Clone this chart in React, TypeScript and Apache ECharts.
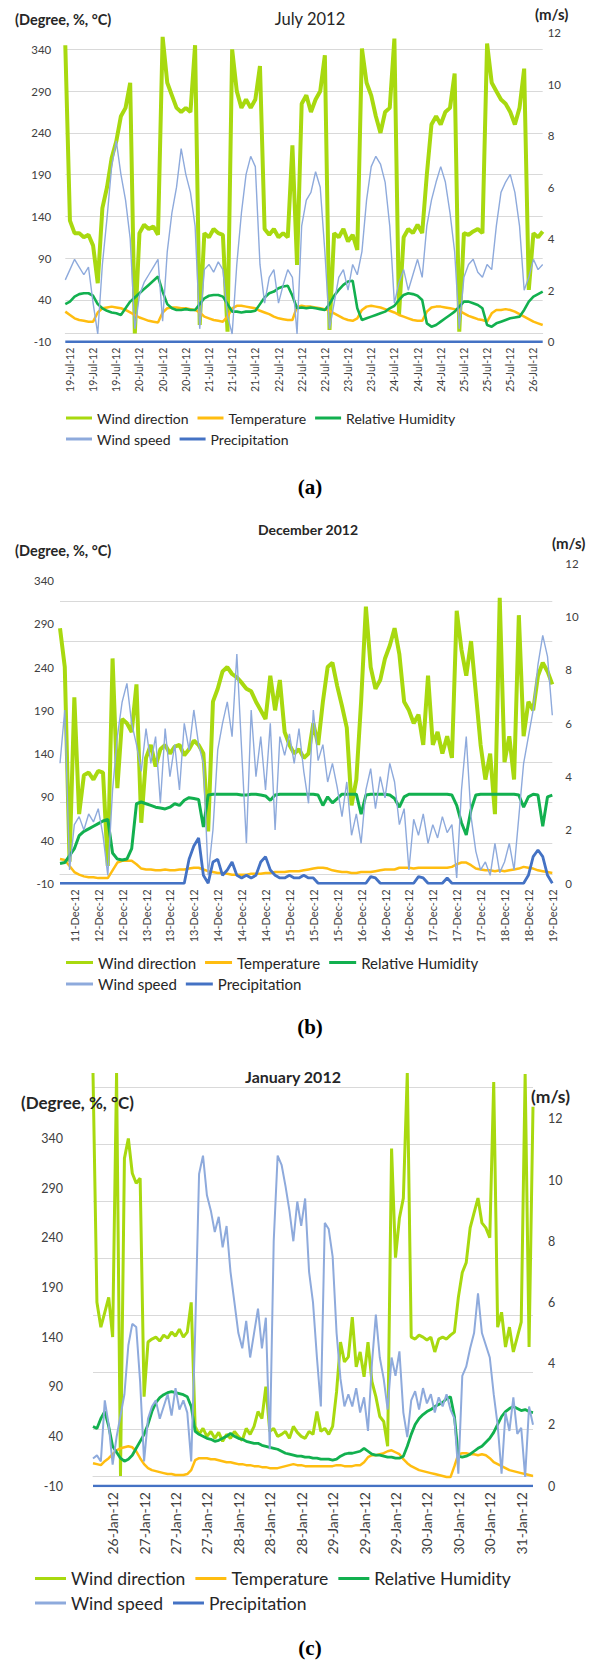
import React, { useEffect, useRef } from "react";
import * as echarts from "echarts";

// ---------------- (a) July 2012 ----------------
const julyTicks = [
  "19-Jul-12", "19-Jul-12", "19-Jul-12", "20-Jul-12", "20-Jul-12", "20-Jul-12", "21-Jul-12",
  "21-Jul-12", "21-Jul-12", "22-Jul-12", "22-Jul-12", "22-Jul-12", "23-Jul-12", "23-Jul-12",
  "24-Jul-12", "24-Jul-12", "24-Jul-12", "25-Jul-12", "25-Jul-12", "25-Jul-12", "26-Jul-12",
];
const julyWindDir = [
  345, 135, 120, 120, 115, 118, 105, 60, 150, 175,
  210, 230, 260, 270, 300, 0, 120, 130, 125, 128,
  118, 355, 300, 285, 270, 265, 270, 265, 345, 10,
  120, 115, 125, 120, 118, 2, 340, 290, 270, 280,
  270, 280, 320, 125, 118, 125, 115, 120, 115, 225,
  82, 275, 285, 265, 280, 290, 333, 4, 120, 115,
  125, 110, 118, 100, 341, 300, 285, 260, 240, 265,
  270, 353, 22, 115, 125, 120, 130, 120, 190, 250,
  260, 250, 265, 270, 311, 2, 120, 118, 122, 125,
  120, 347, 300, 290, 280, 275, 265, 250, 270, 317,
  52, 120, 115, 122,
];
const julyWindSpeed = [
  2.4, 2.8, 3.2, 2.9, 2.6, 2.9, 1.5, 0.3, 3.0, 4.8,
  6.8, 7.8, 6.5, 5.5, 4.0, 0.5, 1.8, 2.3, 2.6, 2.9,
  3.2, 0.8, 3.5, 5.0, 6.0, 7.5, 6.5, 5.8, 4.5, 0.5,
  2.8, 3.0, 2.7, 3.1, 2.8, 1.0, 0.3, 3.0, 5.0, 6.5,
  7.2, 6.8, 3.0, 1.5, 2.5, 2.8, 1.5, 2.2, 2.8, 2.5,
  0.3, 4.5, 5.5, 5.8, 6.6, 6.0, 3.5, 0.5, 1.5, 2.5,
  2.8, 2.0, 3.0, 2.6, 3.5, 5.5, 6.8, 7.2, 6.9, 6.2,
  4.5, 1.5, 2.3, 2.8, 2.0, 2.6, 3.2, 2.5, 4.5, 5.5,
  6.2, 6.8, 6.2, 5.0, 3.5, 0.5, 2.5, 3.0, 3.2, 2.7,
  2.5, 3.0, 2.8, 4.5, 5.8, 6.2, 6.5, 5.8, 4.5, 2.0,
  2.5, 3.2, 2.8, 3.0,
];
const julyTemp = [
  26, 22, 18, 16, 15, 14, 14, 25, 30, 31,
  32, 31, 30, 28, 25, 22, 19, 17, 15, 14,
  13, 25, 30, 31, 31, 30, 30, 29, 28, 25,
  20, 18, 16, 15, 14, 20, 30, 33, 33, 32,
  31, 30, 27, 25, 23, 20, 18, 17, 16, 16,
  32, 33, 32, 32, 31, 30, 29, 27, 24, 21,
  18, 16, 15, 18, 28, 32, 33, 32, 31, 29,
  27, 25, 22, 20, 18, 16, 15, 15, 26, 31,
  32, 32, 31, 30, 29, 27, 24, 21, 19, 17,
  16, 14, 24, 28, 28, 29, 28, 26, 23, 20,
  17, 14, 12, 10,
];
const julyHumidity = [
  35, 38, 44, 47, 48, 48, 45, 35, 30, 27,
  25, 24, 22, 30, 38, 43, 48, 53, 58, 63,
  68, 50, 35, 30, 28, 28, 29, 28, 28, 35,
  42, 45, 46, 46, 44, 35, 26, 26, 25, 26,
  26, 27, 35, 43, 48, 50, 54, 56, 57, 45,
  30, 31, 30, 31, 30, 29, 28, 35, 45, 52,
  58, 62, 63, 30, 16, 18, 20, 22, 24, 26,
  30, 33, 40, 46, 48, 47, 45, 40, 12, 8,
  10, 14, 18, 22, 26, 32, 38, 38, 36, 34,
  30, 10, 8, 12, 14, 16, 18, 19, 20, 28,
  38, 44, 47, 50,
];
const julyPrecip = [[0, 0], [103, 0]];

// ---------------- (b) December 2012 ----------------
const decTicks = [
  "11-Dec-12", "12-Dec-12", "12-Dec-12", "13-Dec-12", "13-Dec-12", "13-Dec-12", "14-Dec-12",
  "14-Dec-12", "14-Dec-12", "15-Dec-12", "15-Dec-12", "15-Dec-12", "16-Dec-12", "16-Dec-12",
  "16-Dec-12", "17-Dec-12", "17-Dec-12", "17-Dec-12", "18-Dec-12", "18-Dec-12", "19-Dec-12",
];
const decWindDir = [
  285, 240, 15, 205, 70, 115, 118, 110, 120, 118,
  10, 250, 100, 180, 175, 165, 220, 60, 135, 150,
  125, 145, 150, 140, 148, 150, 138, 145, 155, 150,
  140, 50, 200, 215, 235, 240, 232, 228, 222, 215,
  212, 200, 190, 180, 230, 190, 225, 165, 150, 140,
  145, 135, 140, 175, 150, 200, 240, 245, 218, 195,
  170, 80, 110, 200, 310, 240, 215, 225, 250, 265,
  285, 255, 200, 190, 175, 185, 150, 230, 150, 165,
  140, 160, 135, 305, 260, 230, 270, 210, 150, 110,
  140, 70, 320, 130, 160, 110, 300, 160, 200, 190,
  230, 245, 235, 220,
];
const decWindSpeed = [
  4.5, 6.5, 0.5, 2.2, 2.5, 2.0, 2.6, 2.3, 2.8, 1.8,
  0.3, 3.5, 5.5, 6.8, 7.5, 6.0, 5.2, 4.2, 5.8, 4.5,
  5.5, 3.0, 5.8, 4.0, 5.2, 3.5, 6.0, 5.0, 6.5, 5.2,
  4.5, 0.3, 2.0, 5.0, 6.0, 6.8, 5.5, 8.6, 5.0, 1.5,
  6.5, 4.0, 5.5, 3.5, 6.0, 2.0, 5.5, 4.8, 5.6, 4.5,
  5.8, 4.2, 3.0, 6.5, 4.6, 5.2, 3.8, 4.5, 3.6, 2.5,
  3.8, 1.8, 2.6, 1.5, 3.5, 4.3, 2.8, 4.0, 3.2, 4.5,
  3.8, 2.2, 2.8, 0.5, 2.4, 1.8, 2.6, 1.5, 2.2, 1.7,
  2.5, 1.9, 2.2, 0.2, 3.5, 5.5, 2.5, 1.2, 0.5, 0.8,
  0.3, 1.5, 0.4, 0.8, 1.5, 0.5, 2.5, 4.5, 5.5, 6.5,
  8.2, 9.3, 8.5, 6.3,
];
const decTemp = [
  18, 17, 10, 3, 0, -2, -3, -3, -4, -4,
  -4, 5, 14, 16, 16, 16, 12, 7, 6, 6,
  5, 5, 6, 5, 5, 6, 6, 7, 8, 8,
  6, 4, 3, 2, 2, 1, 0, 0, 0, 0,
  1, 1, 1, 2, 2, 3, 3, 3, 4, 4,
  4, 5, 6, 7, 8, 8, 7, 5, 4, 3,
  3, 2, 2, 3, 3, 3, 4, 5, 6, 6,
  6, 8, 8, 8, 7, 8, 8, 8, 8, 8,
  8, 8, 9, 12, 14, 14, 11, 7, 6, 5,
  5, 4, 5, 4, 5, 6, 7, 9, 8, 7,
  5, 4, 3, 2,
];
const decHumidity = [
  13, 14, 22, 30, 45, 50, 53, 56, 59, 62,
  64, 25, 18, 17, 18, 30, 82, 84, 82, 80,
  78, 77, 76, 78, 82, 80, 86, 89, 88, 87,
  55, 92, 93, 93, 93, 93, 93, 93, 92, 92,
  93, 93, 92, 91, 86, 92, 93, 93, 93, 93,
  93, 93, 93, 93, 92, 80, 90, 83, 88, 93,
  93, 93, 93, 70, 92, 93, 93, 93, 93, 92,
  88, 78, 90, 93, 93, 93, 93, 93, 93, 93,
  93, 93, 92, 80, 60, 46, 75, 92, 93, 93,
  93, 93, 93, 93, 93, 93, 92, 78, 90, 93,
  92, 56, 90, 92,
];
const decPrecip = [
  0, 0, 0, 0, 0, 0, 0, 0, 0, 0,
  0, 0, 0, 0, 0, 0, 0, 0, 0, 0,
  0, 0, 0, 0, 0, 0, 0, 0.9, 1.4, 1.7,
  0.3, 0, 0.8, 0.9, 0.3, 0.5, 0.8, 0.3, 0.2, 0.3,
  0.2, 0.3, 0.8, 1.0, 0.5, 0.3, 0.2, 0.2, 0.3, 0.2,
  0.2, 0.3, 0.2, 0.2, 0, 0, 0, 0, 0, 0,
  0, 0, 0, 0, 0, 0.25, 0.2, 0, 0, 0,
  0, 0, 0, 0, 0, 0.25, 0.2, 0, 0, 0,
  0, 0.2, 0, 0, 0, 0, 0, 0, 0, 0,
  0, 0, 0, 0, 0, 0, 0, 0, 0.3, 1.0,
  1.25, 1.0, 0.3, 0,
];

// ---------------- (c) January 2012 ----------------
const janTicks = [
  "26-Jan-12", "27-Jan-12", "27-Jan-12", "27-Jan-12", "28-Jan-12", "28-Jan-12", "28-Jan-12",
  "29-Jan-12", "29-Jan-12", "29-Jan-12", "30-Jan-12", "30-Jan-12", "30-Jan-12", "31-Jan-12",
];
const janWindDir = [
  406, 175, 150, 165, 180, 140, 406, 0, 320, 340,
  305, 295, 300, 80, 135, 138, 140, 136, 142, 139,
  145, 141, 148, 140, 145, 175, 50, 42, 48, 40,
  45, 38, 44, 35, 42, 38, 45, 40, 36, 48,
  42, 50, 65, 58, 90, 45, 48, 40, 42, 45,
  38, 50, 44, 40, 38, 45, 42, 65, 45, 48,
  42, 50, 85, 135, 115, 120, 160, 110, 125, 100,
  135, 95, 80, 60, 55, 30, 330, 220, 260, 280,
  406, 140, 138, 142, 140, 137, 140, 125, 138, 140,
  138, 142, 145, 180, 205, 215, 250, 265, 280, 255,
  250, 240, 397, 150, 165, 130, 150, 125, 140, 155,
  405, 130, 372,
];
const janWindSpeed = [
  0.9, 1.0, 0.8, 2.8, 2.0, 0.7, 1.6, 2.3, 3.0, 4.6,
  5.3, 5.2, 3.4, 0.8, 2.2, 2.6, 2.8, 2.2, 2.6, 3.0,
  2.3, 3.2, 2.5, 2.8, 2.4, 0.8, 5.0, 10.2, 10.8, 9.5,
  9.0, 8.3, 8.8, 7.8, 8.5, 7.0, 6.0, 5.0, 4.5, 5.4,
  4.2, 5.0, 5.8, 4.5, 5.5, 1.2, 8.0, 10.8, 10.5, 9.8,
  9.0, 8.0, 9.3, 8.5, 9.4, 7.0, 6.0, 4.2, 2.6, 8.6,
  8.4, 7.5, 5.0, 3.5, 2.6, 3.0, 2.6, 3.2, 2.4, 2.9,
  1.8, 4.0, 5.6, 4.2, 3.5, 2.5, 4.2, 3.6, 4.4, 2.4,
  1.6, 2.8, 3.1, 2.5, 3.2, 2.7, 3.0, 2.4, 2.9, 2.6,
  3.0, 2.5, 2.2, 0.4, 3.6, 3.9, 4.5, 5.0, 6.3, 5.0,
  4.6, 4.2, 3.0, 2.0, 0.4, 2.4, 1.8, 2.9, 1.7, 1.9,
  0.3, 2.6, 2.0,
];
const janTemp = [
  13, 12, 11, 15, 18, 22, 26, 28, 29, 30,
  29, 25, 18, 12, 8, 6, 5, 4, 3, 2,
  2, 1, 1, 1, 2, 6, 16, 18, 18, 18,
  17, 17, 16, 15, 14, 14, 13, 12, 12, 11,
  11, 10, 10, 9, 9, 8, 8, 8, 9, 10,
  11, 12, 11, 11, 10, 10, 10, 10, 10, 10,
  10, 10, 11, 11, 10, 10, 10, 11, 11, 14,
  19, 21, 21, 22, 23, 25, 26, 24, 22, 17,
  13, 10, 8, 6, 5, 4, 3, 2, 1, 0,
  -1, -1, 10, 22, 23, 23, 22, 22, 21, 22,
  21, 18, 14, 12, 10, 8, 6, 5, 4, 3,
  2, 1, 0,
];
const janHumidity = [
  50, 48, 58, 65, 50, 30, 24, 18, 15, 17,
  21, 28, 35, 42, 52, 65, 74, 79, 82, 84,
  85, 84, 83, 82, 80, 70, 45, 42, 40, 38,
  37, 35, 36, 38, 40, 43, 40, 38, 37, 35,
  34, 33, 33, 31, 30, 29, 28, 27, 25, 23,
  22, 21, 20, 20, 19, 19, 18, 18, 17, 17,
  17, 16, 17, 20, 22, 23, 23, 24, 25, 28,
  25, 22, 21, 21, 20, 19, 19, 18, 18, 20,
  30, 42, 52, 58, 62, 65, 67, 70, 72, 74,
  78, 80, 60, 20, 19, 20, 22, 25, 28, 30,
  34, 38, 44, 52, 60, 65, 68, 70, 68, 66,
  67, 65, 64,
];
const janPrecip = [[0, 0], [112, 0]];

const NAMES = ["Wind direction", "Temperature", "Relative Humidity", "Wind speed", "Precipitation"];
const FONT = "Lato, 'Noto Sans', sans-serif";
const COLORS = ["#a8d90f", "#ffbd10", "#12b04f", "#8eaadc", "#4472c4"];
const TXT = "#404040";

function buildOption() {
  const panels = [
    {
      grid: { left: 65.3, top: 32.7, width: 477.4, height: 309 },
      n: 104, ticks: julyTicks, start: 1, step: 5, xFont: 10.5, xMargin: 6,
      leftMax: 360, rightMax: 12, gridMax: 7.4, lMargin: 14, rMargin: 5, yFont: 11.5, hideLeftAbove: 350,
      data: [julyWindDir, julyTemp, julyHumidity, julyWindSpeed, julyPrecip],
      widths: [4, 2.5, 2.6, 1.4, 2.5],
      legend: { left: 66, rows: [411, 432], font: 14, iw: 26, gap: 9 },
    },
    {
      grid: { left: 60, top: 563.3, width: 492.3, height: 320 },
      n: 104, ticks: decTicks, start: 3, step: 5, xFont: 11, xMargin: 6,
      leftMax: 360, rightMax: 12, gridMax: 7.934, lMargin: 6, rMargin: 13, yFont: 11.5, hideLeftAbove: 350,
      data: [decWindDir, decTemp, decHumidity, decWindSpeed, decPrecip],
      widths: [4, 2.5, 3, 1.4, 2.8],
      legend: { left: 66, rows: [955, 976.5], font: 15, iw: 27, gap: 9 },
    },
    {
      grid: { left: 93, top: 1073, width: 440, height: 413 },
      n: 113, ticks: janTicks, start: 5, step: 8, xFont: 14, xMargin: 6,
      leftMax: 406, rightMax: 13.5, gridMax: 7.246, lMargin: 30, rMargin: 15, yFont: 12.5, hideLeftAbove: 350,
      data: [janWindDir, janTemp, janHumidity, janWindSpeed, janPrecip],
      widths: [3, 2.5, 2.8, 2, 2.5],
      legend: { left: 35, rows: [1569.5, 1594], font: 17.5, iw: 31, gap: 10 },
    },
  ];

  const grid: any[] = [];
  const xAxis: any[] = [];
  const yAxis: any[] = [];
  const series: any[] = [];
  const legend: any[] = [];

  panels.forEach((p, k) => {
    grid.push({ ...p.grid, containLabel: false });
    const cats = Array.from({ length: p.n }, (_, i) => String(i));
    xAxis.push({
      type: "category", gridIndex: k, data: cats, boundaryGap: false,
      axisLine: { show: true, lineStyle: { color: "#d9d9d9", width: 1 } },
      axisTick: { show: false },
      axisLabel: {
        interval: (i: number) => i >= p.start && (i - p.start) % p.step === 0,
        formatter: (v: string) => {
          const q = (Number(v) - p.start) / p.step;
          return Number.isInteger(q) && q >= 0 && q < p.ticks.length ? p.ticks[q] : "";
        },
        rotate: 90, fontSize: p.xFont, color: TXT, fontFamily: FONT, margin: p.xMargin,
      },
    });
    yAxis.push({
      type: "value", gridIndex: k, position: "left", min: -10, max: p.leftMax, interval: 50,
      axisLine: { show: false }, axisTick: { show: false }, splitLine: { show: false },
      axisLabel: {
        fontSize: p.yFont, color: TXT, fontFamily: FONT, margin: p.lMargin, showMaxLabel: false,
        formatter: (v: number) => (v > p.hideLeftAbove ? "" : String(v)),
      },
    });
    yAxis.push({
      type: "value", gridIndex: k, position: "right", min: 0, max: p.rightMax, interval: 2,
      axisLine: { show: false }, axisTick: { show: false }, splitLine: { show: false },
      axisLabel: {
        fontSize: p.yFont, color: TXT, fontFamily: FONT, margin: p.rMargin,
        formatter: (v: number) => (v > 12 ? "" : String(v)),
      },
    });
    yAxis.push({
      type: "value", gridIndex: k, position: "left", min: 0, max: p.gridMax, interval: 1,
      axisLine: { show: false }, axisTick: { show: false }, axisLabel: { show: false },
      splitLine: { show: true, showMinLine: false, showMaxLine: false, lineStyle: { color: "#d9d9d9", width: 1 } },
    });
    p.data.forEach((d, s) => {
      series.push({
        type: "line", name: NAMES[s], xAxisIndex: k, yAxisIndex: 3 * k + (s >= 3 ? 1 : 0),
        data: d, showSymbol: false, symbol: "none", silent: true, color: COLORS[s],
        lineStyle: { width: p.widths[s], color: COLORS[s] }, itemStyle: { color: COLORS[s] },
        z: 2 + s, animation: false,
      });
    });
    const lg = p.legend;
    [NAMES.slice(0, 3), NAMES.slice(3)].forEach((names, r) => {
      legend.push({
        data: names, left: lg.left, top: lg.rows[r], orient: "horizontal", padding: 0,
        icon: "rect", itemWidth: lg.iw, itemHeight: 3, itemGap: lg.gap, selectedMode: false,
        textStyle: { fontSize: lg.font, color: "#262626", fontFamily: FONT },
      });
    });
  });

  const t = (text: string, left: number, top: number, size: number, weight: string, align = "center") => ({
    text, left, top, padding: 0, textAlign: align, textVerticalAlign: "middle",
    textStyle: { fontSize: size, fontWeight: weight, color: "#262626", fontFamily: FONT },
  });
  const cap = (letter: string, top: number) => ({
    text: `{n|(}{b|${letter}}{n|)}`, left: 310, top, padding: 0, textAlign: "center", textVerticalAlign: "middle",
    textStyle: {
      rich: {
        n: { fontSize: 21, fontFamily: "'Liberation Serif', serif", color: "#000" },
        b: { fontSize: 21, fontFamily: "'Liberation Serif', serif", fontWeight: "bold", color: "#000" },
      },
    },
  });

  const title = [
    t("July 2012", 310, 19, 16.5, "normal"),
    t("(Degree, %, °C)", 15, 19, 14.5, "bold", "left"),
    t("(m/s)", 535, 13.5, 15, "bold", "left"),
    cap("a", 486.7),
    t("December 2012", 308, 529.3, 14, "bold"),
    t("(Degree, %, °C)", 15, 550, 14.5, "bold", "left"),
    t("(m/s)", 552, 543, 15, "bold", "left"),
    cap("b", 1026.7),
    t("January 2012", 293, 1076, 16, "bold"),
    t("(Degree, %, °C)", 21, 1102.7, 17, "bold", "left"),
    t("(m/s)", 531, 1096, 17.5, "bold", "left"),
    cap("c", 1648),
  ];

  return {
    animation: false,
    backgroundColor: "#ffffff",
    textStyle: { fontFamily: FONT },
    title, grid, xAxis, yAxis, series, legend,
  };
}

export default function App() {
  const ref = useRef<HTMLDivElement>(null);
  useEffect(() => {
    if (!ref.current) return;
    const chart = echarts.init(ref.current, null, { renderer: "svg" });
    chart.setOption(buildOption() as any);
    return () => chart.dispose();
  }, []);
  return <div ref={ref} style={{ position: "absolute", left: 0, top: 0, width: 595, height: 1661 }} />;
}
